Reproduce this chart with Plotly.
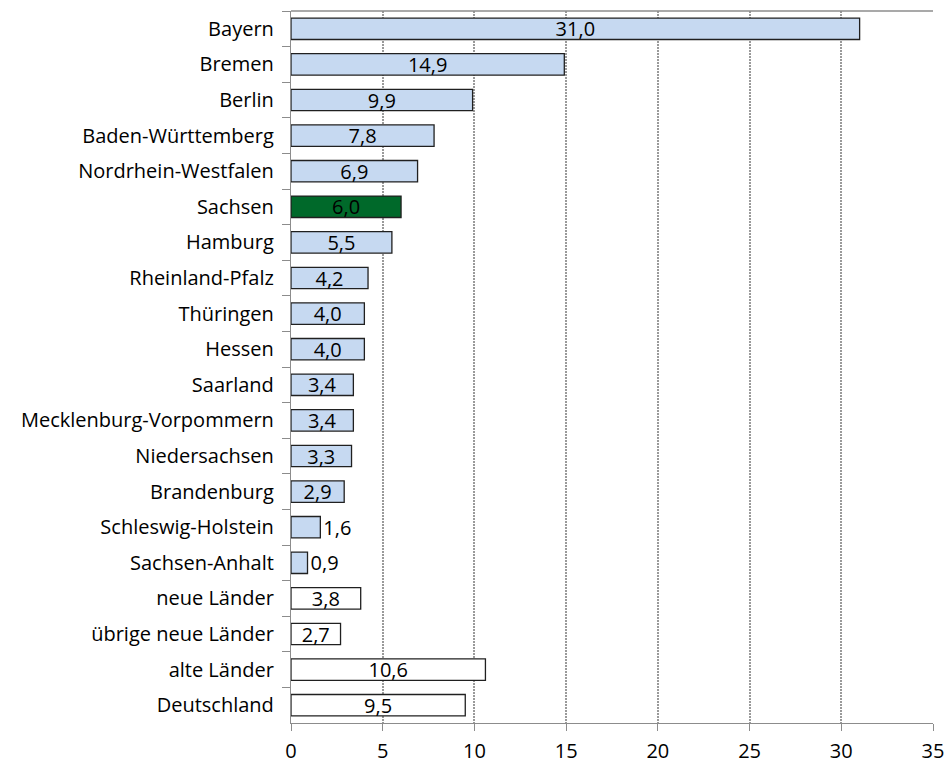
import plotly.graph_objects as go

categories = ["Bayern", "Bremen", "Berlin", "Baden-Württemberg", "Nordrhein-Westfalen",
              "Sachsen", "Hamburg", "Rheinland-Pfalz", "Thüringen", "Hessen", "Saarland",
              "Mecklenburg-Vorpommern", "Niedersachsen", "Brandenburg", "Schleswig-Holstein",
              "Sachsen-Anhalt", "neue Länder", "übrige neue Länder", "alte Länder", "Deutschland"]
values = [31.0, 14.9, 9.9, 7.8, 6.9, 6.0, 5.5, 4.2, 4.0, 4.0, 3.4, 3.4, 3.3, 2.9, 1.6, 0.9,
          3.8, 2.7, 10.6, 9.5]
bar_colors = ["#C6D9F1"] * 5 + ["#00692A"] + ["#C6D9F1"] * 10 + ["#FFFFFF"] * 4
text_positions = ["inside" if v >= 2 else "outside" for v in values]

FONT = "Open Sans"
FS = 20

fig = go.Figure(go.Bar(
    y=categories, x=values, orientation="h",
    marker=dict(color=bar_colors, line=dict(color="#202020", width=1.3)),
    texttemplate="%{x:.1f}", textposition=text_positions,
    insidetextanchor="middle", constraintext="none", cliponaxis=False,
    textfont=dict(family=FONT, size=FS, color="#000000"),
    width=0.6,
))

fig.update_layout(
    width=949, height=764,
    margin=dict(l=291, r=16, t=11, b=41, autoexpand=False),
    plot_bgcolor="white", paper_bgcolor="white",
    separators=",.",
    showlegend=False,
    font=dict(family=FONT, size=FS, color="#000000"),
)
fig.update_xaxes(range=[0, 35], dtick=5, tick0=0, showgrid=True, gridcolor="#9A9A9A",
                 griddash="2px,1px", gridwidth=1.5, zeroline=False, showline=True,
                 linecolor="#8C8C8C", linewidth=1.3, ticks="outside", ticklen=7,
                 tickcolor="#8C8C8C", tickfont=dict(family=FONT, size=FS), automargin=False,
                 ticklabelstandoff=3)
fig.update_yaxes(autorange="reversed", showline=True, linecolor="#8C8C8C", linewidth=1.3,
                 ticks="outside", tickson="boundaries", ticklen=8, tickcolor="#8C8C8C",
                 showgrid=False, tickfont=dict(family=FONT, size=FS),
                 ticklabelstandoff=12, automargin=False)
fig.add_shape(type="line", xref="paper", yref="paper", x0=0, x1=1, y0=1, y1=1,
              line=dict(color="#8C8C8C", width=1.3))

fig.write_html("out.html", config={"displayModeBar": False},
               post_script="document.body.style.margin='0px';")
